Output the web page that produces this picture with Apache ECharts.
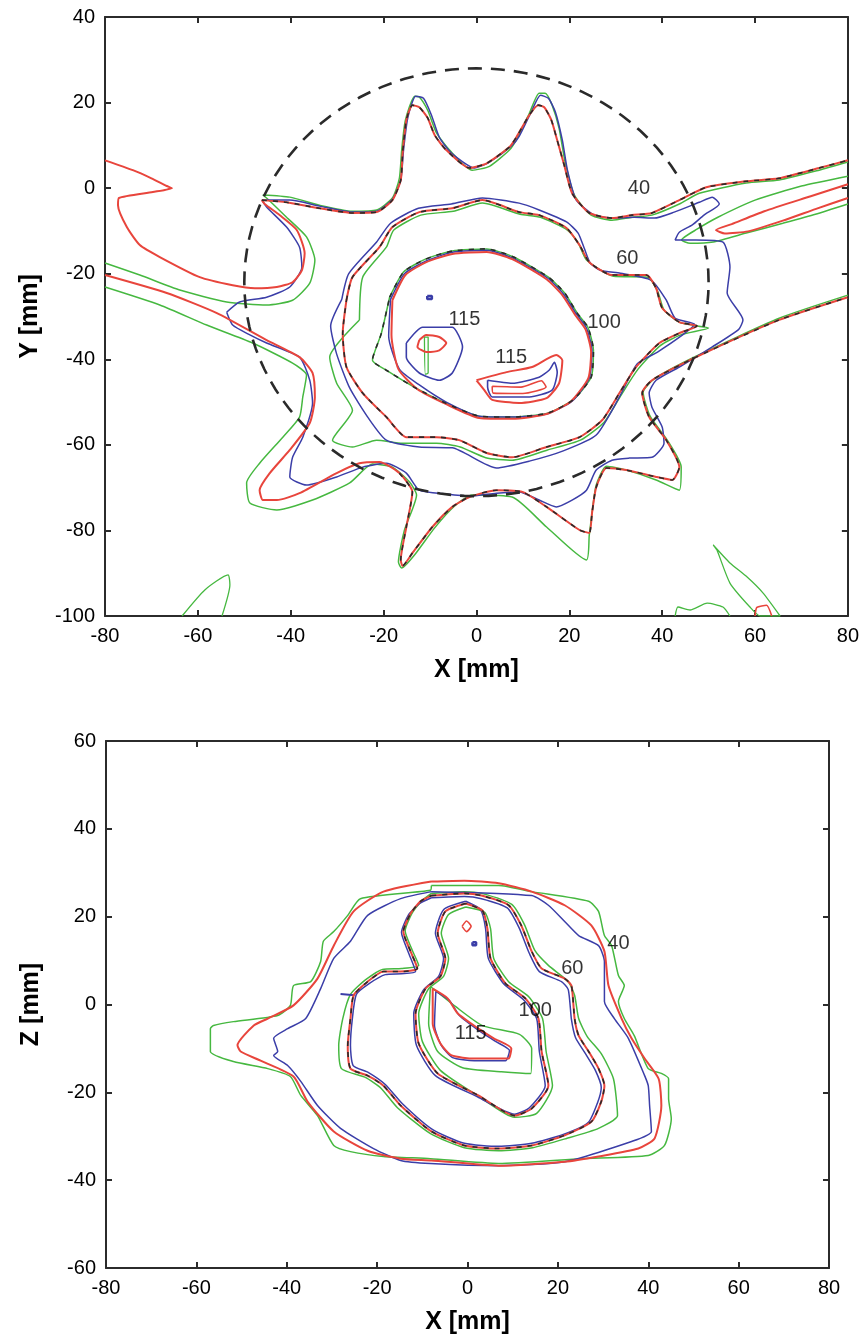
<!DOCTYPE html>
<html>
<head>
<meta charset="utf-8">
<script src="https://cdn.jsdelivr.net/npm/echarts@6/dist/echarts.min.js"></script>
<style>
  html, body { margin: 0; padding: 0; background: #fff; }
  #chart { width: 862px; height: 1339px; }
</style>
</head>
<body>
<div id="chart"></div>
<script>
// ---- top panel (X-Y plane), values in mm ----
const redN40 = [[-80,6.5],[-74,4.2],[-70,2.3],[-66.7,0.5],[-65.6,0],[-69.7,-0.9],[-77,-2.3],[-77.2,-4],[-75.3,-9.1],[-72.5,-13.3],[-68.2,-16.1],[-59.6,-20.8],[-52.5,-22.7],[-47.7,-23.4],[-43,-23.1],[-39.6,-22],[-37.6,-19.2],[-37,-15.2],[-38.7,-9.8],[-42.4,-6.3],[-45.6,-3.7],[-46.2,-2.8],[-40.9,-3.3],[-33.8,-4.7],[-26.7,-5.8],[-21.5,-5.6],[-18.1,-2.8],[-16.3,1.9],[-15.9,8.2],[-15.1,15.9],[-13.8,19.4],[-12.3,18.9],[-10.5,16.4],[-9,12.4],[-6.5,8.9],[-1.5,4.7],[2.2,5.8],[7.1,9.6],[8.6,11.9],[11.4,17.1],[13.3,19.4],[14.6,18.9],[16.1,16],[17.4,11.2],[18.9,5.4],[20.6,-1.2],[24.3,-5.8],[29.2,-7],[33.5,-6.3],[37.8,-5.8],[43.7,-2.8],[49.5,0.2],[58.1,1.6],[65.2,2.3],[73.8,4.7],[80,6.5]];
const greenN40 = [[-80,-17.5],[-72.5,-20.3],[-63.9,-23.8],[-53.8,-26.6],[-45.2,-27.3],[-39.6,-26.2],[-35.9,-22.2],[-34.8,-16.8],[-36.6,-11.4],[-40.9,-6.8],[-45.2,-2.3],[-46,-1.6],[-40.2,-2.1],[-33.8,-4],[-26.7,-5.4],[-21.5,-5.1],[-18.1,-2.3],[-16.6,2.3],[-16.1,8.9],[-15.3,15.9],[-13.3,21.5],[-12.3,21.3],[-10.5,18.2],[-8.6,12.9],[-5.8,8.9],[-0.9,4.2],[2.8,5.1],[7.1,8.9],[8.8,11.7],[11.4,17.5],[13.5,22.2],[14.8,22.2],[16.3,19.4],[17.8,14],[19.1,6.1],[21.1,-1.6],[24.7,-6.3],[29.2,-7.5],[33.5,-6.8],[37.8,-6.3],[43.7,-3.7],[48,-1.2],[58.1,1.2],[65.2,1.9],[73.8,4.2],[80,6.1]];
const blueStar40 = [[-53.8,-29],[-51,-26.6],[-45.2,-25.5],[-40.2,-23.1],[-37.6,-18.5],[-38.1,-13.8],[-40.9,-9.1],[-45.2,-4.4],[-46.2,-2.8],[-40.2,-2.8],[-33.8,-4.2],[-26.7,-5.6],[-21.5,-5.4],[-18.1,-2.6],[-16.3,1.9],[-15.7,8.9],[-14.8,16.4],[-13.1,21.5],[-11.4,21],[-9.7,17.1],[-8,11.9],[-5.4,8.2],[-0.4,4.7],[2.8,6.1],[7.5,9.8],[9.2,12.1],[11.8,17.8],[13.8,21.7],[15.5,21],[17,17.8],[18.5,11.2],[19.6,4.2],[21.5,-2.8],[25.4,-6.3],[29.7,-7],[34,-6.8],[38.3,-7],[42.6,-5.6],[48,-3.3],[50.8,-2.1],[52.3,-3.7],[49,-6.3],[46.5,-8.6],[43.7,-10.3],[42.8,-12.1],[47.3,-12.1],[53.1,-12.6],[54.6,-18.5],[54,-24.5],[57.4,-30.8],[56.5,-33],[50.8,-37.1],[43.7,-41.8],[38.7,-44.9],[37.2,-47.9],[37.8,-51.2],[40,-55.8],[40.4,-59.6],[37.8,-62.9],[32.9,-63.1],[29.2,-63.6],[25.8,-65.9],[23.7,-70.6],[20.6,-72.9],[17.2,-74.5],[13.5,-72.9],[9.2,-71],[4.3,-71.3],[-1.5,-72],[-6.5,-71.5],[-12.3,-70.6],[-15.1,-66.6],[-19.4,-64.3],[-24.5,-65.2],[-30.1,-67.5],[-36.6,-69.4],[-40.2,-67.5],[-39.6,-62.9],[-37.4,-58.2],[-35.3,-50.2],[-35.9,-44.9],[-38.1,-39.5],[-45.2,-36.2],[-48.8,-34.3],[-52.5,-32],[-53.8,-29]];
const redS40 = [[-80,-20.3],[-66.7,-24.5],[-55.9,-29.2],[-45.2,-35.5],[-38.1,-39.5],[-35.3,-43.2],[-34.8,-48.8],[-35.9,-54.9],[-40.2,-61.2],[-44.5,-66.6],[-46.7,-70.6],[-46,-72.9],[-43,-72.9],[-38.1,-71.3],[-30.1,-66.6],[-25.2,-64.3],[-20.9,-64],[-16.6,-66.6],[-13.8,-71],[-15.1,-79.2],[-16.3,-86.9],[-15.9,-88.3],[-13.8,-85.3],[-9.5,-79.2],[-5.2,-74.5],[-1.5,-72.2],[4.3,-70.6],[9.9,-71],[15.1,-74.5],[22.2,-79.9],[24.3,-80.6],[24.9,-75.9],[25.8,-69.9],[28,-65.4],[32.3,-65.9],[38.7,-67.5],[42.2,-68.2],[43.7,-65.2],[40.9,-58.9],[37.2,-53.5],[35.7,-47.9],[37.8,-44.9],[47.3,-39.5],[65.2,-30.8],[80,-25.5]];
const greenS40 = [[-80,-23.1],[-68.2,-27.3],[-58.1,-32],[-48.2,-36.2],[-39.6,-40.9],[-36.6,-43.7],[-37.4,-48.8],[-38.1,-53.5],[-41.7,-58.2],[-46.7,-64.3],[-49.5,-68.9],[-48.8,-73.6],[-43,-75.2],[-35.3,-72.9],[-27.3,-68.9],[-22.4,-64.5],[-18.1,-65.2],[-14.4,-68.7],[-12.9,-71.7],[-15.5,-79.9],[-16.8,-87.4],[-16.1,-88.8],[-13.3,-85.7],[-9,-79.4],[-4.7,-74.3],[-0.9,-71.7],[7.7,-72.2],[15.1,-79.2],[23.7,-86.9],[24.3,-81.1],[24.9,-75.9],[25.8,-69.4],[28,-65],[32.3,-65.9],[38.7,-68.2],[43.7,-70.6],[44.1,-65.2],[41.1,-58.9],[37.4,-53.3],[35.9,-47.7],[38.3,-44.6],[47.3,-39.3],[65.2,-30.4],[80,-25]];
const redArm40 = [[80,0.9],[72,-1.9],[62,-5.4],[55,-8.4],[51.6,-9.8],[53.5,-10.6],[58.5,-10.1],[66,-7.6],[73,-4.9],[80,-2.3]];
const greenArm40 = [[80,2.8],[70,0.5],[60,-2.8],[52,-6.8],[47.5,-9.6],[44.2,-12.1],[46,-12.9],[51,-12.6],[58.1,-10.5],[66,-8.2],[73,-6.1],[80,-3.7]];
const red60 = [[-28,-26.2],[-26.7,-20.8],[-20.9,-13.8],[-18.1,-9.1],[-12.3,-5.6],[-5.2,-4.7],[1.3,-2.8],[9.2,-5.6],[13.5,-6.3],[19.4,-9.3],[22.2,-13.3],[24.3,-17.3],[29.2,-20.3],[36.6,-20.3],[38.7,-23.4],[40,-28],[43.7,-31.3],[47.5,-32.2],[43.7,-33.9],[39.4,-36.2],[34.4,-41.8],[30.8,-47.9],[27.1,-54.2],[22.2,-58.2],[15.1,-60.5],[7.7,-62.9],[2.2,-61.9],[-3.7,-58.9],[-8.6,-58.2],[-15.1,-58.2],[-19.4,-53.5],[-24.5,-47.9],[-28,-41.8],[-28.8,-33.9],[-28,-26.2]];
const green60 = [[-25.2,-30.8],[-24.5,-20.8],[-19.4,-13.8],[-17.8,-9.8],[-12,-6.3],[-5,-5.4],[1.3,-3.5],[9.4,-6.1],[13.8,-6.8],[19.6,-9.8],[22,-13],[23.7,-16.8],[29.5,-20.6],[36.8,-20.8],[39,-24],[40.4,-28.5],[44,-31.5],[50,-32.7],[44,-34.3],[39.6,-36.8],[34.8,-42.3],[31.2,-48.3],[27.5,-54.7],[22.4,-58.9],[15.3,-61.2],[7.7,-63.6],[2,-63],[-3.5,-60.5],[-8.6,-59.6],[-15.9,-59.6],[-21.5,-58.9],[-26.7,-60.5],[-31,-58.9],[-26.7,-51.9],[-30.1,-45.6],[-31.6,-39.5],[-25.2,-30.8]];
const blue60 = [[-29,-26],[-27.5,-20],[-21.5,-12.6],[-18.5,-8.2],[-12.5,-4.7],[-5.4,-3.7],[1.3,-2.3],[9.2,-3.5],[13.5,-5.1],[19.4,-7.9],[21.9,-10.5],[23.2,-14],[24.5,-17.5],[26.7,-19.2],[31,-19.9],[37.6,-21.5],[40.9,-26.2],[42.8,-30.4],[47,-31.8],[44.4,-34.3],[39,-38.3],[34.6,-41.1],[30.8,-48.8],[25.8,-57.7],[18.7,-61.4],[11.4,-63.8],[4.3,-65.4],[-5.2,-60.7],[-12.3,-60.5],[-19.4,-58.9],[-23.3,-53.7],[-27.3,-46.7],[-30.1,-38.8],[-31.4,-32.2],[-29,-26]];
const red100 = [[-18.1,-26.2],[-15.3,-20.3],[-10.8,-17.3],[-5.2,-15.4],[2.2,-14.9],[7.7,-16.6],[15.1,-21.3],[18.5,-25],[21.3,-29.7],[23.5,-33],[24.7,-38.3],[24.1,-44.4],[20.4,-49.8],[15.1,-52.8],[7.7,-53.9],[0.6,-53.7],[-6.5,-50.5],[-12.7,-47],[-16.8,-42.3],[-18.3,-34.3],[-18.1,-26.2]];
const green100 = [[-18.7,-25.5],[-15.7,-19.6],[-11,-16.6],[-5.2,-14.7],[2.2,-14.2],[8,-16.1],[15.5,-20.8],[19,-24.5],[21.7,-29.2],[24,-32.5],[25.2,-37.9],[24.7,-44.2],[20.8,-49.5],[15.3,-52.6],[7.7,-53.5],[0.6,-53.3],[-6.7,-50.2],[-13.1,-46.7],[-19.5,-42.5],[-22.4,-40.2],[-20.5,-34],[-18.7,-25.5]];
const blue100 = [[-18.5,-26],[-15.5,-20],[-10.8,-17],[-5.2,-15],[2.2,-14.5],[7.7,-16.3],[15.3,-21],[18.7,-24.7],[21.5,-29.4],[23.7,-32.7],[24.9,-38],[24.3,-44.4],[20.6,-49.8],[15.1,-52.8],[7.7,-53.5],[0.6,-53.3],[-6.5,-50],[-12.3,-46],[-16.6,-42.3],[-18.9,-34.6],[-18.5,-26]];
const red115a = [[-12.3,-35.5],[-10.8,-34.3],[-8,-34.8],[-6.5,-36.2],[-8,-37.9],[-10.8,-38.3],[-12.7,-37.1],[-12.3,-35.5]];
const blue115a = [[-15.1,-36.2],[-11.6,-32.5],[-5.2,-32.5],[-3,-37.1],[-5.2,-43.2],[-8,-44.9],[-12.3,-43.2],[-15.1,-39.5],[-15.1,-36.2]];
const green115a = [[-11.2,-34.8],[-10.4,-34.8],[-10.4,-43.2],[-11,-43.5],[-11.2,-34.8]];
const blueDot = [[-10.6,-25.2],[-9.6,-25.2],[-9.6,-25.9],[-10.6,-25.9],[-10.6,-25.2]];
const red115b = [[0,-44.9],[6.5,-43],[12,-41.8],[17.2,-39],[18.5,-40.2],[17.8,-45.6],[15.1,-49.1],[9.2,-50.2],[3.4,-49.5],[1.7,-47.2],[0,-44.9]];
const blue115b = [[2.4,-44.9],[7.7,-45.6],[13.5,-44.2],[15.7,-42.5],[16.8,-40.7],[17.4,-43],[16.3,-47.2],[11.4,-48.8],[3.4,-48.8],[2.4,-46.5],[2.4,-44.9]];
const redInner115b = [[3.4,-46.3],[9.6,-46.5],[14,-45],[15,-46.5],[10,-48],[3.6,-47.9],[3.4,-46.3]];
const greenLowLeft = [[-63.4,-100],[-58.5,-93.9],[-53.5,-90.4],[-53.1,-92.7],[-54.8,-100]];
const greenLowRight = [[51,-83.4],[54.6,-87.6],[58.3,-90.9],[61.7,-94.6],[65.4,-100],[61.1,-100],[58.9,-97.9],[54.6,-92.3],[51.8,-84.6],[51,-83.4]];
const greenLowBump = [[42.8,-100],[43.4,-97.9],[46,-98.6],[49.7,-97],[53.1,-97.9],[54.6,-100]];
const redLowLoop = [[60,-100],[60.4,-98],[62.5,-97.5],[63.6,-100]];
const tumourCentre = [0, -22];
const tumourRadius = 50;
const topLabels = [['40', 35, 0], ['60', 32.5, -16.4], ['100', 27.5, -31.3], ['115', -2.6, -30.8], ['115', 7.5, -39.5]];

// ---- bottom panel (X-Z plane), values in mm ----
const red40b = [[-8,28],[-0.7,28.2],[6.9,27.6],[14.2,25.7],[21.5,22.6],[27.4,18],[30.3,12.1],[31.2,4.3],[34.1,-3.2],[36.3,-7.7],[39.2,-12.3],[42.3,-16.9],[42.9,-23],[41.4,-30.5],[37.8,-32.8],[29,-34.6],[21.5,-35.8],[6.9,-36.7],[-8,-35.5],[-14.8,-35.1],[-22.1,-33.3],[-29.6,-28.9],[-35.4,-22.1],[-38.5,-16.4],[-45.8,-12.8],[-50.2,-10.7],[-50.9,-9.3],[-47.3,-4.8],[-44.2,-3.2],[-38.5,-0.2],[-33.2,5.9],[-29.6,13.4],[-25.2,21.2],[-18.6,25.7],[-8,28]];
const green40b = [[-8,27.1],[6.9,27.1],[14.2,25.7],[26.8,23.5],[29,21.2],[30.3,15.7],[31.9,13.4],[33.4,6.6],[34.7,4.3],[33.4,0.7],[34.7,-3.2],[36.9,-7.1],[40,-14.6],[42.9,-15.7],[44.5,-16.9],[44.5,-21.4],[45.1,-26],[43.6,-32.1],[40,-34.4],[25.2,-35.1],[6.9,-36.2],[-8.2,-35.1],[-18.6,-34.6],[-25.9,-33.5],[-29.6,-32.1],[-33.2,-25.3],[-36.9,-20.7],[-39.2,-16.4],[-44.2,-14.6],[-51.8,-13],[-56.9,-10.7],[-56.9,-5.5],[-56.2,-4.8],[-51.8,-3.9],[-42,-2.5],[-39.2,-0.2],[-38.5,4.3],[-34.7,5.2],[-32.5,9.8],[-31.9,14.4],[-29.6,16.6],[-26.5,20.3],[-23.7,24.1],[-8.2,26],[-8,27.1]];
const blue40b = [[-8,25.7],[14.2,24.8],[17.9,22.6],[21.5,18.9],[24.6,15.7],[29,13.4],[30.3,9.8],[30.3,0.7],[32.5,-3.2],[35.6,-7.7],[39.2,-16.2],[40,-18.5],[40.3,-23],[40.7,-28.9],[36.3,-31.2],[21.5,-35.8],[6.9,-36.7],[-8.2,-36.2],[-14.8,-35.5],[-20.8,-32.8],[-28.1,-28.2],[-33.2,-23],[-36.9,-17.5],[-39.8,-13.9],[-42.9,-11.6],[-42,-10.7],[-42.9,-7.7],[-39.8,-5.5],[-35.8,-3.2],[-32.5,3.6],[-29.6,10.5],[-25.9,14.4],[-22.1,20.3],[-14.8,24.1],[-8,25.7]];
const red60b = [[-8,24.8],[-0.7,25.3],[3.1,24.8],[9.1,22.6],[11.9,18],[14.2,12.1],[16.4,8.2],[21.5,5.9],[23,4.3],[23.7,-3.2],[24.6,-7.1],[26.8,-10.7],[29,-14.6],[30.3,-18.5],[29.6,-22.1],[27.4,-26.7],[21.5,-29.8],[14.2,-32.1],[6.9,-32.8],[-0.7,-32.1],[-8,-28.9],[-14.8,-23],[-18.6,-18.5],[-22.1,-16.2],[-25.9,-14.6],[-26.5,-9.3],[-25.9,-3.2],[-25.2,2.1],[-22.1,5.2],[-18.6,7.5],[-14.8,7.5],[-11.1,8.2],[-12.6,12.1],[-14.2,16.6],[-12.6,20.7],[-10.4,23.5],[-8,24.8]];
const green60b = [[-8,25.3],[-0.7,25.7],[3.1,25.3],[9.8,22.8],[12.6,18.2],[14.9,12.3],[17.9,8.9],[22.3,5.2],[23.7,2.1],[24.6,-3.2],[26.5,-7.3],[29.6,-11.2],[32.3,-16.9],[33.2,-25.3],[29,-28.2],[21.9,-30.5],[14.4,-32.6],[6.9,-33.3],[-0.7,-32.6],[-8.2,-29.4],[-15.5,-23.5],[-19.2,-19],[-22.6,-16.6],[-27.9,-14.6],[-28.5,-9.3],[-27.6,-3.2],[-25.9,2.3],[-22.6,5.6],[-18.8,8],[-14.6,8.2],[-10.8,8.9],[-12.2,12.3],[-13.8,16.8],[-12.2,20.9],[-10,23.7],[-8,25.3]];
const blue60b = [[-8,24.3],[-0.7,24.6],[3.1,24.1],[8.8,22],[11.4,17.5],[13.7,11.6],[15.9,7.5],[20.8,5.2],[22.3,3.4],[23,-3.4],[23.9,-7.5],[26.1,-11.2],[28.3,-15],[29.6,-18.9],[28.8,-22.3],[26.7,-26.9],[21.2,-29.6],[14.2,-31.6],[6.9,-32.3],[-0.7,-31.6],[-7.7,-28.5],[-14.4,-22.6],[-18.2,-18.2],[-21.9,-15.5],[-25.3,-13.9],[-25.9,-9.3],[-25.5,-3.4],[-24.6,2.3],[-21.7,4.8],[-18.2,6.8],[-14.6,7],[-11.5,7.5],[-13.1,11.9],[-14.6,16.4],[-13,20.5],[-10.6,23],[-8,24.3]];
const red100b = [[-0.4,23],[-4.9,21.2],[-6.6,16.2],[-4.9,10.5],[-6,6.4],[-9.3,3.6],[-11.5,-2.1],[-10.8,-8.9],[-6.6,-15.7],[2.4,-20.7],[10.4,-25.3],[14.2,-23.7],[17.9,-18.5],[16.4,-10.7],[15.7,-3.2],[12.8,1.4],[8.4,4.8],[5.1,10.5],[4.4,17.3],[3.3,21.4],[-0.4,23]];
const green100b = [[-0.4,22.2],[-4.2,20.5],[-5.8,16.2],[-4.2,10.5],[-5.3,6.4],[-8.6,3.6],[-10.8,-2.1],[-10,-8.4],[-6,-15],[2.9,-21.2],[10.4,-25.7],[15.3,-24.8],[18.8,-18.5],[17.4,-10.7],[16.6,-3.2],[13.5,1.8],[9.1,5.2],[5.8,10.5],[5.1,17.3],[3.8,21],[-0.4,22.2]];
const blue100b = [[-0.4,23.5],[-5.3,21.6],[-7.1,16.2],[-5.3,10.5],[-6.4,6.4],[-9.7,3.4],[-11.9,-2.1],[-11.3,-9.3],[-7.1,-16.2],[2.2,-21],[10.4,-25],[13.7,-23.5],[17.2,-18.5],[15.9,-10.7],[15.3,-3.2],[12.4,1.1],[8.1,4.6],[4.6,10.5],[4,17.3],[2.9,21.6],[-0.4,23.5]];
const red115b2 = [[-7.7,3.6],[-4.4,1.4],[-2.2,-2],[2.4,-5.5],[5.8,-7.7],[9.7,-10],[9.1,-12.3],[6.9,-12.3],[1.5,-12.3],[-3.5,-11.6],[-6,-8.9],[-7.7,-4.3],[-7.7,3.6]];
const green115b2 = [[-8.2,4.1],[-2.6,-0.5],[3.3,-4.8],[11.5,-6.8],[14.2,-10],[14,-15.7],[7.5,-15.3],[-1.1,-14.4],[-6.6,-10.7],[-8.6,-4.3],[-8.2,4.1]];
const blue115b2 = [[-7,3],[-4,0.9],[-1.8,-2.5],[2.6,-6],[6.2,-8.4],[9.3,-10.5],[8.4,-12.8],[1.5,-12.8],[-3.3,-12.1],[-5.8,-9.3],[-7.3,-4.8],[-7,3]];
const redDiamond = [[-1.2,17.8],[-0.2,19],[0.8,17.8],[-0.2,16.6],[-1.2,17.8]];
const blueDotB = [[1.1,14.2],[1.9,14.2],[1.9,13.5],[1.1,13.5],[1.1,14.2]];
const blueDashB = [[-28.1,2.4],[-25,2.1]];
const bottomLabels = [['40', 33.4, 13.9], ['60', 23.2, 8.2], ['100', 15, -1.4], ['115', 0.7, -6.6]];

const RED = '#e8453c', GREEN = '#46b840', BLUE = '#3b3ea8', DARK = '#2a2a2a';
const FONT = '"Liberation Sans Narrow","Liberation Sans",Arial,sans-serif';

function contour(data, color, width, panel, extra) {
  return Object.assign({
    type: 'line', data: data, xAxisIndex: panel * 2, yAxisIndex: panel * 2,
    showSymbol: false, symbol: 'none', smooth: 0.2, silent: true, animation: false,
    lineStyle: { color: color, width: width }, z: 3
  }, extra || {});
}
function dashed(data, panel) {
  return contour(data, DARK, 1.6, panel, { lineStyle: { color: DARK, width: 1.6, type: [5, 6] }, z: 5 });
}
function labels(list, panel) {
  return {
    type: 'scatter', xAxisIndex: panel * 2, yAxisIndex: panel * 2, symbolSize: 1, silent: true,
    itemStyle: { color: 'rgba(0,0,0,0)' }, z: 10,
    data: list.map(l => ({ name: l[0], value: [l[1], l[2]] })),
    label: { show: true, position: 'inside', formatter: '{b}', color: '#000', fontSize: 20, fontFamily: FONT }
  };
}

function axisPair(kind, grid, min, max, name, nameGap) {
  const line = { show: true, onZero: false, lineStyle: { color: '#2b2b2b', width: 2 } };
  const tick = { show: true, inside: true, length: 6, lineStyle: { color: '#2b2b2b', width: 2 } };
  const main = {
    type: 'value', gridIndex: grid, min: min, max: max, interval: 20,
    position: kind === 'x' ? 'bottom' : 'left',
    axisLine: line, axisTick: tick, splitLine: { show: false },
    axisLabel: { color: '#000', fontSize: 20, fontFamily: FONT, margin: 10 },
    name: name, nameLocation: 'middle', nameGap: nameGap,
    nameTextStyle: { fontWeight: 'bold', fontSize: 25, color: '#000', fontFamily: '"Liberation Sans",Arial,sans-serif' }
  };
  const mirror = {
    type: 'value', gridIndex: grid, min: min, max: max, interval: 20,
    position: kind === 'x' ? 'top' : 'right',
    axisLine: line, axisTick: tick, splitLine: { show: false }, axisLabel: { show: false }
  };
  return [main, mirror];
}

const chart = echarts.init(document.getElementById('chart'), null, { renderer: 'canvas' });

const topSeries = [
  contour(greenS40, GREEN, 1.5, 0), contour(greenN40, GREEN, 1.5, 0), contour(greenArm40, GREEN, 1.5, 0),
  contour(green60, GREEN, 1.5, 0), contour(green100, GREEN, 1.5, 0), contour(green115a, GREEN, 1.3, 0),
  contour(greenLowLeft, GREEN, 1.3, 0), contour(greenLowRight, GREEN, 1.3, 0), contour(greenLowBump, GREEN, 1.3, 0),
  contour(blueStar40, BLUE, 1.5, 0), contour(blue60, BLUE, 1.5, 0), contour(blue100, BLUE, 1.5, 0),
  contour(blue115a, BLUE, 1.6, 0), contour(blue115b, BLUE, 1.6, 0), contour(blueDot, BLUE, 2.5, 0),
  contour(redN40, RED, 2, 0), contour(redS40, RED, 2, 0), contour(redArm40, RED, 2, 0),
  contour(red60, RED, 2, 0), contour(red100, RED, 2, 0), contour(red115a, RED, 2, 0),
  contour(red115b, RED, 2, 0), contour(redInner115b, RED, 1.6, 0), contour(redLowLoop, RED, 1.6, 0),
  dashed(redN40.slice(21), 0), dashed(redS40.slice(17), 0), dashed(red60, 0), dashed(green100, 0),
  {
    type: 'custom', xAxisIndex: 0, yAxisIndex: 0, silent: true, z: 6,
    data: [[tumourCentre[0], tumourCentre[1], tumourRadius]],
    renderItem: function (params, api) {
      const cx = api.value(0), cy = api.value(1), r = api.value(2);
      const pts = [];
      for (let a = 0; a <= 360; a += 3) {
        const t = a * Math.PI / 180;
        pts.push(api.coord([cx + r * Math.cos(t), cy + r * Math.sin(t)]));
      }
      return { type: 'polyline', shape: { points: pts }, style: { stroke: DARK, lineWidth: 2.6, lineDash: [14, 9], fill: null } };
    }
  },
  labels(topLabels, 0)
];

const bottomSeries = [
  contour(green40b, GREEN, 1.5, 1), contour(green60b, GREEN, 1.5, 1), contour(green100b, GREEN, 1.5, 1), contour(green115b2, GREEN, 1.5, 1),
  contour(blue40b, BLUE, 1.5, 1), contour(blue60b, BLUE, 1.5, 1), contour(blue100b, BLUE, 1.5, 1), contour(blue115b2, BLUE, 1.5, 1),
  contour(blueDotB, BLUE, 2.5, 1), contour(blueDashB, BLUE, 2, 1),
  contour(red40b, RED, 2, 1), contour(red60b, RED, 2, 1), contour(red100b, RED, 2, 1), contour(red115b2, RED, 2, 1),
  contour(redDiamond, RED, 1.6, 1),
  dashed(red60b, 1), dashed(red100b, 1),
  labels(bottomLabels, 1)
];

const tx = axisPair('x', 0, -80, 80, 'X [mm]', 42);
const ty = axisPair('y', 0, -100, 40, 'Y [mm]', 62);
const bx = axisPair('x', 1, -80, 80, 'X [mm]', 42);
const by = axisPair('y', 1, -60, 60, 'Z [mm]', 62);

chart.setOption({
  backgroundColor: '#fff',
  animation: false,
  grid: [
    { left: 105, top: 17, width: 744, height: 599 },
    { left: 106, top: 741, width: 723, height: 527 }
  ],
  xAxis: [tx[0], tx[1], bx[0], bx[1]],
  yAxis: [ty[0], ty[1], by[0], by[1]],
  series: topSeries.concat(bottomSeries)
});
</script>
</body>
</html>
